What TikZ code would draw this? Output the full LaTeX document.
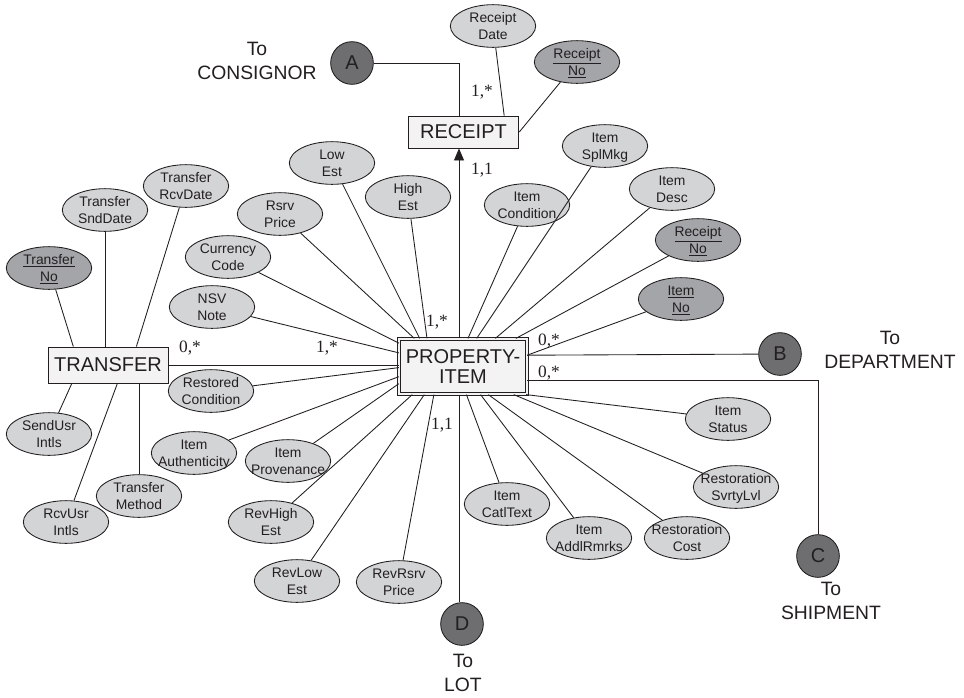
\documentclass[tikz,border=0pt]{standalone}
\usepackage{fontspec}
\setmainfont{Liberation Sans}
\newfontfamily\cardfont{Liberation Serif}
\usetikzlibrary{shapes.geometric,arrows.meta}

\definecolor{linec}{RGB}{35,31,32}
\definecolor{attrlight}{RGB}{211,212,214}
\definecolor{attrdark}{RGB}{164,165,169}
\definecolor{connfill}{RGB}{110,110,112}
\definecolor{boxfill}{RGB}{243,243,243}

% two centred lines in a box of zero size, lowered so that the
% block's visual middle sits on the node centre
\newcommand\twolines[3][10pt]{\makebox[0pt]{\raisebox{-#1}[0pt][0pt]{%
  \begin{tabular}[b]{@{}c@{}}#2\\#3\end{tabular}}}}

\tikzset{
  attr/.style={ellipse, draw=linec, fill=attrlight, line width=0.65pt,
    minimum width=64pt, minimum height=32pt, inner sep=0pt,
    text=linec, font=\fontsize{10.4}{12.6}\selectfont},
  keyattr/.style={attr, fill=attrdark},
  entity/.style={rectangle, draw=linec, fill=boxfill, line width=0.65pt,
    inner sep=0pt, text=linec, font=\fontsize{15}{15}\selectfont},
  weakentity/.style={entity, double=boxfill, double distance=1.8pt,
    line width=0.6pt},
  conn/.style={circle, draw=linec, fill=connfill, line width=0.65pt,
    minimum size=32pt, inner sep=0pt, text=linec,
    font=\fontsize{15}{15}\selectfont},
  link/.style={draw=linec, line width=0.65pt},
  card/.style={inner sep=0pt, text=linec, font=\cardfont\fontsize{13}{13}\selectfont},
  dest/.style={inner sep=0pt, text=linec, font=\fontsize{14.5}{18}\selectfont},
}

\begin{document}
\begin{tikzpicture}[x=0.75pt, y=-0.75pt]
\useasboundingbox (0,0) rectangle (964,697);

% ---------- entities ----------
\node[weakentity, minimum width=95.6pt, minimum height=41.6pt] (pi) at (463,366.5)
  {\twolines[12.9pt]{PROPERTY-}{ITEM}};
\node[entity, minimum width=83pt, minimum height=24pt] (rc) at (463.5,132) {RECEIPT};
\node[entity, minimum width=90pt, minimum height=27pt] (tr) at (108,365) {TRANSFER};

% x of the RECEIPT / LOT spine
\coordinate (mx) at (459,0);

% ---------- off-page connectors ----------
\node[conn] (a) at (352,63) {A};
\node[conn] (b) at (780,354) {B};
\node[conn] (c) at (818,556) {C};
\node[conn] (d) at (462,624) {D};

\node[dest] (ta) at (257,61) {\twolines[14.2pt]{To}{CONSIGNOR}};
\node[dest] (tb) at (890,350) {\twolines[14.2pt]{To}{DEPARTMENT}};
\node[dest] (tc) at (831,601) {\twolines[14.2pt]{To}{SHIPMENT}};
\node[dest] (td) at (463,673) {\twolines[14.2pt]{To}{LOT}};

% ---------- RECEIPT attributes ----------
\node[attr]    (rd)  at (493,26)  {\twolines{Receipt}{Date}};
\node[keyattr] (rn1) at (577,62)  {\twolines{\underline{Receipt}}{\underline{No}}};

% ---------- TRANSFER attributes ----------
\node[attr]    (trd) at (186,186) {\twolines{Transfer}{RcvDate}};
\node[attr]    (tsd) at (105,210) {\twolines{Transfer}{SndDate}};
\node[keyattr] (tno) at (49,268)  {\twolines{\underline{Transfer}}{\underline{No}}};
\node[attr]    (sui) at (49,434)  {\twolines{SendUsr}{Intls}};
\node[attr]    (tm)  at (139,496) {\twolines{Transfer}{Method}};
\node[attr]    (rui) at (66,522)  {\twolines{RcvUsr}{Intls}};

% ---------- PROPERTY-ITEM attributes ----------
\node[attr]    (le)  at (332,163) {\twolines{Low}{Est}};
\node[attr]    (he)  at (408,197) {\twolines{High}{Est}};
\node[attr]    (rp)  at (280,214) {\twolines{Rsrv}{Price}};
\node[attr]    (cc)  at (228,257) {\twolines{Currency}{Code}};
\node[attr]    (nsv) at (212,307) {\twolines{NSV}{Note}};
\node[attr]    (rcd) at (211,391) {\twolines{Restored}{Condition}};
\node[attr]    (ia)  at (194,453) {\twolines{Item}{Authenticity}};
\node[attr]    (ip)  at (288,461) {\twolines{Item}{Provenance}};
\node[attr]    (rhe) at (271,522) {\twolines{RevHigh}{Est}};
\node[attr]    (rle) at (297,581) {\twolines{RevLow}{Est}};
\node[attr]    (rrp) at (399,582) {\twolines{RevRsrv}{Price}};
\node[attr]    (ict) at (507,504) {\twolines{Item}{CatlText}};
\node[attr]    (iar) at (589,538) {\twolines{Item}{AddlRmrks}};
\node[attr]    (rco) at (687,538) {\twolines{Restoration}{Cost}};
\node[attr]    (rsl) at (736,487) {\twolines{Restoration}{SvrtyLvl}};
\node[attr]    (ist) at (728,419) {\twolines{Item}{Status}};
\node[keyattr] (ino) at (681,299) {\twolines{\underline{Item}}{\underline{No}}};
\node[keyattr] (rn2) at (698,240) {\twolines{\underline{Receipt}}{\underline{No}}};
\node[attr]    (ide) at (672,189) {\twolines{Item}{Desc}};
\node[attr]    (isp) at (605,146) {\twolines{Item}{SplMkg}};
\node[attr]    (ico) at (527,205) {\twolines{Item}{Condition}};

% ---------- connectors: RECEIPT ----------
\draw[link] (a) -| (rc.north -| mx);
\draw[link] (rd) -- (rc.22.6);
\draw[link] (rn1) -- (rc.east);
\draw[link, -{Triangle[length=9pt, width=7.5pt]}] (pi.north -| mx) -- (rc.south -| mx);

% ---------- connectors: TRANSFER ----------
\draw[link] (tno) -- (tr.152.1);
\draw[link] (tsd) -- (tsd |- tr.north);
\draw[link] (trd) -- (tr.33.7);
\draw[link] (sui) -- (tr.207.9);
\draw[link] (rui) -- (tr.-63.4);
\draw[link] (tm) -- (tm |- tr.south);
\draw[link] (tr) -- (tr -| pi.west);

% ---------- connectors: PROPERTY-ITEM ----------
\draw[link] (le)  -- (pi.147.3);
\draw[link] (he)  -- (pi.142.9);
\draw[link] (rp)  -- (pi.150.4);
\draw[link] (cc)  -- (pi.160.3);
\draw[link] (nsv) -- (pi.168.4);
\draw[link] (rcd) -- (pi.181.3);
\draw[link] (ia)  -- (pi.189.1);
\draw[link] (ip)  -- (pi.195.8);
\draw[link] (rhe) -- (pi.209.1);
\draw[link] (rle) -- (pi.216.4);
\draw[link] (rrp) -- (pi.224.5);
\draw[link] (ict) -- (pi.277.7);
\draw[link] (iar) -- (pi.302.8);
\draw[link] (rco) -- (pi.312.5);
\draw[link] (rsl) -- (pi.331.4);
\draw[link] (ist) -- (pi.336.3);
\draw[link] (ino) -- (pi.10.8);
\draw[link] (rn2) -- (pi.28.2);
\draw[link] (ide) -- (pi.41.0);
\draw[link] (isp) -- (pi.64.6);
\draw[link] (ico) -- (pi.80.4);

% ---------- off-page links ----------
\draw[link] (pi.10.8) -- (b);
\draw[link] (pi.-12.5) -| (c);
\draw[link] (pi.south -| mx) -- (d.north -| mx);

% ---------- cardinalities ----------
\node[card] (k1) at (482,92)  {1,*};
\node[card] (k2) at (482,170) {1,1};
\node[card] (k3) at (190,348) {0,*};
\node[card] (k4) at (327,348) {1,*};
\node[card] (k5) at (437,322) {1,*};
\node[card] (k6) at (549,341) {0,*};
\node[card] (k7) at (549,373) {0,*};
\node[card] (k8) at (442,425) {1,1};
\end{tikzpicture}
\end{document}
